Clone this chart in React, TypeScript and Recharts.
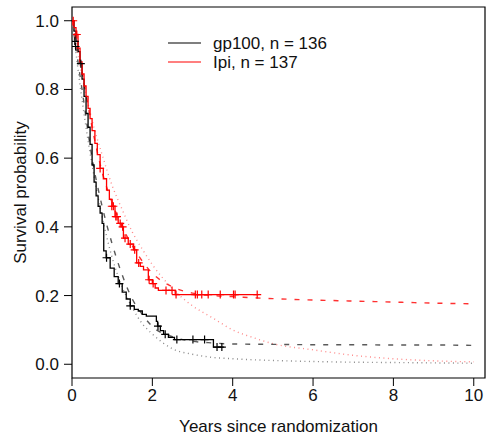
import React from "react";
import {
  ComposedChart,
  Line,
  Scatter,
  XAxis,
  YAxis,
  ReferenceArea,
} from "recharts";

// Kaplan-Meier estimates (years, survival)
const gp100Km = [
  { t: 0, s: 1.0 }, { t: 0.05, s: 0.97 }, { t: 0.1, s: 0.94 }, { t: 0.15, s: 0.91 },
  { t: 0.2, s: 0.875 }, { t: 0.25, s: 0.83 }, { t: 0.3, s: 0.78 }, { t: 0.35, s: 0.73 },
  { t: 0.4, s: 0.69 }, { t: 0.45, s: 0.64 }, { t: 0.5, s: 0.58 }, { t: 0.55, s: 0.53 },
  { t: 0.6, s: 0.49 }, { t: 0.65, s: 0.46 }, { t: 0.7, s: 0.44 }, { t: 0.75, s: 0.41 },
  { t: 0.79, s: 0.33 }, { t: 0.85, s: 0.31 }, { t: 0.95, s: 0.28 }, { t: 1.05, s: 0.255 },
  { t: 1.15, s: 0.235 }, { t: 1.25, s: 0.21 }, { t: 1.35, s: 0.19 }, { t: 1.45, s: 0.17 },
  { t: 1.55, s: 0.16 }, { t: 1.65, s: 0.155 }, { t: 1.75, s: 0.145 }, { t: 1.85, s: 0.14 },
  { t: 2.1, s: 0.125 }, { t: 2.13, s: 0.111 }, { t: 2.2, s: 0.098 }, { t: 2.28, s: 0.087 },
  { t: 2.4, s: 0.078 }, { t: 2.55, s: 0.072 }, { t: 3.52, s: 0.05 }, { t: 3.78, s: 0.05 },
];

const ipiKm = [
  { t: 0, s: 1.0 }, { t: 0.05, s: 0.98 }, { t: 0.1, s: 0.96 }, { t: 0.15, s: 0.92 },
  { t: 0.2, s: 0.88 }, { t: 0.25, s: 0.845 }, { t: 0.3, s: 0.81 }, { t: 0.35, s: 0.78 },
  { t: 0.4, s: 0.745 }, { t: 0.45, s: 0.715 }, { t: 0.5, s: 0.68 }, { t: 0.57, s: 0.643 },
  { t: 0.63, s: 0.61 }, { t: 0.7, s: 0.57 }, { t: 0.78, s: 0.54 }, { t: 0.86, s: 0.507 },
  { t: 0.93, s: 0.48 }, { t: 1.0, s: 0.46 }, { t: 1.07, s: 0.43 }, { t: 1.15, s: 0.41 },
  { t: 1.24, s: 0.4 }, { t: 1.28, s: 0.367 }, { t: 1.4, s: 0.35 }, { t: 1.53, s: 0.333 },
  { t: 1.61, s: 0.295 }, { t: 1.7, s: 0.285 }, { t: 1.78, s: 0.275 }, { t: 1.9, s: 0.246 },
  { t: 2.0, s: 0.235 }, { t: 2.07, s: 0.222 }, { t: 2.15, s: 0.215 }, { t: 2.57, s: 0.203 },
  { t: 4.64, s: 0.203 },
];

// censoring marks
const gp100Censor = [
  { t: 0.07, s: 0.94 }, { t: 0.09, s: 0.925 }, { t: 0.22, s: 0.875 }, { t: 0.86, s: 0.31 },
  { t: 1.18, s: 0.235 }, { t: 1.45, s: 0.17 }, { t: 2.14, s: 0.111 }, { t: 2.32, s: 0.087 },
  { t: 2.61, s: 0.072 }, { t: 3.01, s: 0.072 }, { t: 3.3, s: 0.072 }, { t: 3.61, s: 0.05 },
  { t: 3.73, s: 0.05 },
];

const ipiCensor = [
  { t: 0.03, s: 1.0 }, { t: 0.12, s: 0.96 }, { t: 0.7, s: 0.57 }, { t: 0.99, s: 0.46 },
  { t: 1.03, s: 0.46 }, { t: 1.09, s: 0.43 }, { t: 1.12, s: 0.43 }, { t: 1.2, s: 0.41 },
  { t: 1.26, s: 0.4 }, { t: 1.32, s: 0.367 }, { t: 1.45, s: 0.35 }, { t: 1.56, s: 0.333 },
  { t: 1.66, s: 0.295 }, { t: 1.92, s: 0.246 }, { t: 2.02, s: 0.235 }, { t: 2.34, s: 0.215 },
  { t: 2.49, s: 0.215 }, { t: 2.59, s: 0.203 }, { t: 3.07, s: 0.203 }, { t: 3.12, s: 0.203 },
  { t: 3.23, s: 0.203 }, { t: 3.39, s: 0.203 }, { t: 3.69, s: 0.203 }, { t: 4.02, s: 0.203 },
  { t: 4.06, s: 0.203 }, { t: 4.61, s: 0.203 },
];

// parametric fits (dashed = cure model, dotted = standard model)
const gp100Cure = [
  { t: 0, s: 1.0 }, { t: 0.25, s: 0.8 }, { t: 0.5, s: 0.6 }, { t: 0.75, s: 0.46 },
  { t: 1.0, s: 0.35 }, { t: 1.25, s: 0.26 }, { t: 1.5, s: 0.19 }, { t: 1.75, s: 0.145 },
  { t: 2.0, s: 0.11 }, { t: 2.5, s: 0.08 }, { t: 3.0, s: 0.067 }, { t: 3.5, s: 0.062 },
  { t: 4.0, s: 0.059 }, { t: 5.0, s: 0.058 }, { t: 6.0, s: 0.057 }, { t: 7.0, s: 0.057 },
  { t: 8.0, s: 0.056 }, { t: 9.0, s: 0.056 }, { t: 10.0, s: 0.055 },
];

const ipiCure = [
  { t: 0, s: 1.0 }, { t: 0.25, s: 0.85 }, { t: 0.5, s: 0.69 }, { t: 0.75, s: 0.56 },
  { t: 1.0, s: 0.47 }, { t: 1.25, s: 0.4 }, { t: 1.5, s: 0.345 }, { t: 1.75, s: 0.3 },
  { t: 2.0, s: 0.265 }, { t: 2.5, s: 0.225 }, { t: 3.0, s: 0.207 }, { t: 3.5, s: 0.2 },
  { t: 4.0, s: 0.197 }, { t: 4.6, s: 0.193 }, { t: 5.0, s: 0.191 }, { t: 6.0, s: 0.187 },
  { t: 7.0, s: 0.184 }, { t: 8.0, s: 0.181 }, { t: 9.0, s: 0.178 }, { t: 10.0, s: 0.176 },
];

const gp100Std = [
  { t: 0, s: 1.0 }, { t: 0.25, s: 0.77 }, { t: 0.5, s: 0.58 }, { t: 0.75, s: 0.43 },
  { t: 1.0, s: 0.31 }, { t: 1.25, s: 0.225 }, { t: 1.5, s: 0.165 }, { t: 1.75, s: 0.118 },
  { t: 2.0, s: 0.088 }, { t: 2.5, s: 0.045 }, { t: 3.0, s: 0.029 }, { t: 3.5, s: 0.02 },
  { t: 4.0, s: 0.016 }, { t: 5.0, s: 0.011 }, { t: 6.0, s: 0.008 }, { t: 7.0, s: 0.006 },
  { t: 8.0, s: 0.005 }, { t: 9.0, s: 0.004 }, { t: 10.0, s: 0.003 },
];

const ipiStd = [
  { t: 0, s: 1.0 }, { t: 0.25, s: 0.84 }, { t: 0.5, s: 0.71 }, { t: 0.75, s: 0.61 },
  { t: 1.0, s: 0.52 }, { t: 1.25, s: 0.45 }, { t: 1.5, s: 0.385 }, { t: 1.75, s: 0.335 },
  { t: 2.0, s: 0.29 }, { t: 2.5, s: 0.22 }, { t: 3.0, s: 0.17 }, { t: 3.5, s: 0.135 },
  { t: 4.0, s: 0.1 }, { t: 4.5, s: 0.078 }, { t: 5.0, s: 0.06 }, { t: 6.0, s: 0.042 },
  { t: 7.0, s: 0.026 }, { t: 8.0, s: 0.016 }, { t: 9.0, s: 0.01 }, { t: 10.0, s: 0.007 },
];

const xTicks = [0, 2, 4, 6, 8, 10];
const yTicks = [0, 0.2, 0.4, 0.6, 0.8, 1.0];

const FONT = "'Liberation Sans', Arial, sans-serif";
const RED = "#ff0000";
const FS = 17;

const plus = (color: string) => (props: any) => {
  const { cx, cy } = props;
  return (
    <path
      d={`M${cx - 4},${cy}h8M${cx},${cy - 4}v8`}
      stroke={color}
      strokeWidth={1.2}
      fill="none"
    />
  );
};

const LegendBox = () => (
  <svg width={200} height={44} style={{ position: "absolute", left: 168, top: 33 }}>
    <line x1={0} y1={10} x2={33} y2={10} stroke="#000" strokeWidth={1.2} />
    <text x={45} y={16} fontSize={FS} fontFamily={FONT} fill="#111">gp100, n = 136</text>
    <line x1={0} y1={29} x2={33} y2={29} stroke={RED} strokeWidth={1.2} />
    <text x={45} y={35} fontSize={FS} fontFamily={FONT} fill="#111">Ipi, n = 137</text>
  </svg>
);

export default function App() {
  return (
    <div style={{ position: "absolute", left: 0, top: 0, width: 487, height: 438, background: "#fff" }}>
      <ComposedChart
        width={487}
        height={438}
        margin={{ top: 7, right: 2, left: 0, bottom: 0 }}
      >
        <XAxis
          dataKey="t"
          type="number"
          domain={[0, 10.28]}
          ticks={xTicks}
          allowDataOverflow
          axisLine={false}
          tickSize={8}
          tickMargin={3}
          tickLine={{ stroke: "#000" }}
          tick={{ fontSize: FS, fill: "#111", fontFamily: FONT }}
          height={60}
          label={{
            value: "Years since randomization",
            position: "insideBottom",
            offset: 6,
            fontSize: FS,
            fill: "#111",
            fontFamily: FONT,
          }}
        />
        <YAxis
          type="number"
          domain={[-0.04, 1.04]}
          ticks={yTicks}
          allowDataOverflow
          axisLine={false}
          tickSize={8}
          tickMargin={5}
          tickLine={{ stroke: "#000" }}
          tickFormatter={(v: number) => v.toFixed(1)}
          tick={{ fontSize: FS, fill: "#111", fontFamily: FONT }}
          width={72}
          label={{
            value: "Survival probability",
            angle: -90,
            position: "insideLeft",
            offset: 20,
            fontSize: FS,
            fill: "#111",
            fontFamily: FONT,
            style: { textAnchor: "middle" },
          }}
        />
        <ReferenceArea
          x1={0}
          x2={10.28}
          y1={-0.04}
          y2={1.04}
          fill="none"
          stroke="#000"
          strokeWidth={1.2}
          fillOpacity={0}
        />
        <Line data={gp100Std} dataKey="s" type="monotone" stroke="#8a8a8a" strokeWidth={1.4}
          strokeDasharray="1 3.5" dot={false} isAnimationActive={false} />
        <Line data={ipiStd} dataKey="s" type="monotone" stroke="#ff8c8c" strokeWidth={1.4}
          strokeDasharray="1 3.5" dot={false} isAnimationActive={false} />
        <Line data={gp100Cure} dataKey="s" type="monotone" stroke="#5a5a5a" strokeWidth={1.4}
          strokeDasharray="5 8" dot={false} isAnimationActive={false} />
        <Line data={ipiCure} dataKey="s" type="monotone" stroke="#ff3030" strokeWidth={1.4}
          strokeDasharray="5 8" dot={false} isAnimationActive={false} />
        <Line data={gp100Km} dataKey="s" type="stepAfter" stroke="#000" strokeWidth={1.3}
          dot={false} isAnimationActive={false} />
        <Line data={ipiKm} dataKey="s" type="stepAfter" stroke={RED} strokeWidth={1.3}
          dot={false} isAnimationActive={false} />
        <Scatter data={gp100Censor} dataKey="s" shape={plus("#000")} isAnimationActive={false} />
        <Scatter data={ipiCensor} dataKey="s" shape={plus(RED)} isAnimationActive={false} />
      </ComposedChart>
      <LegendBox />
    </div>
  );
}
